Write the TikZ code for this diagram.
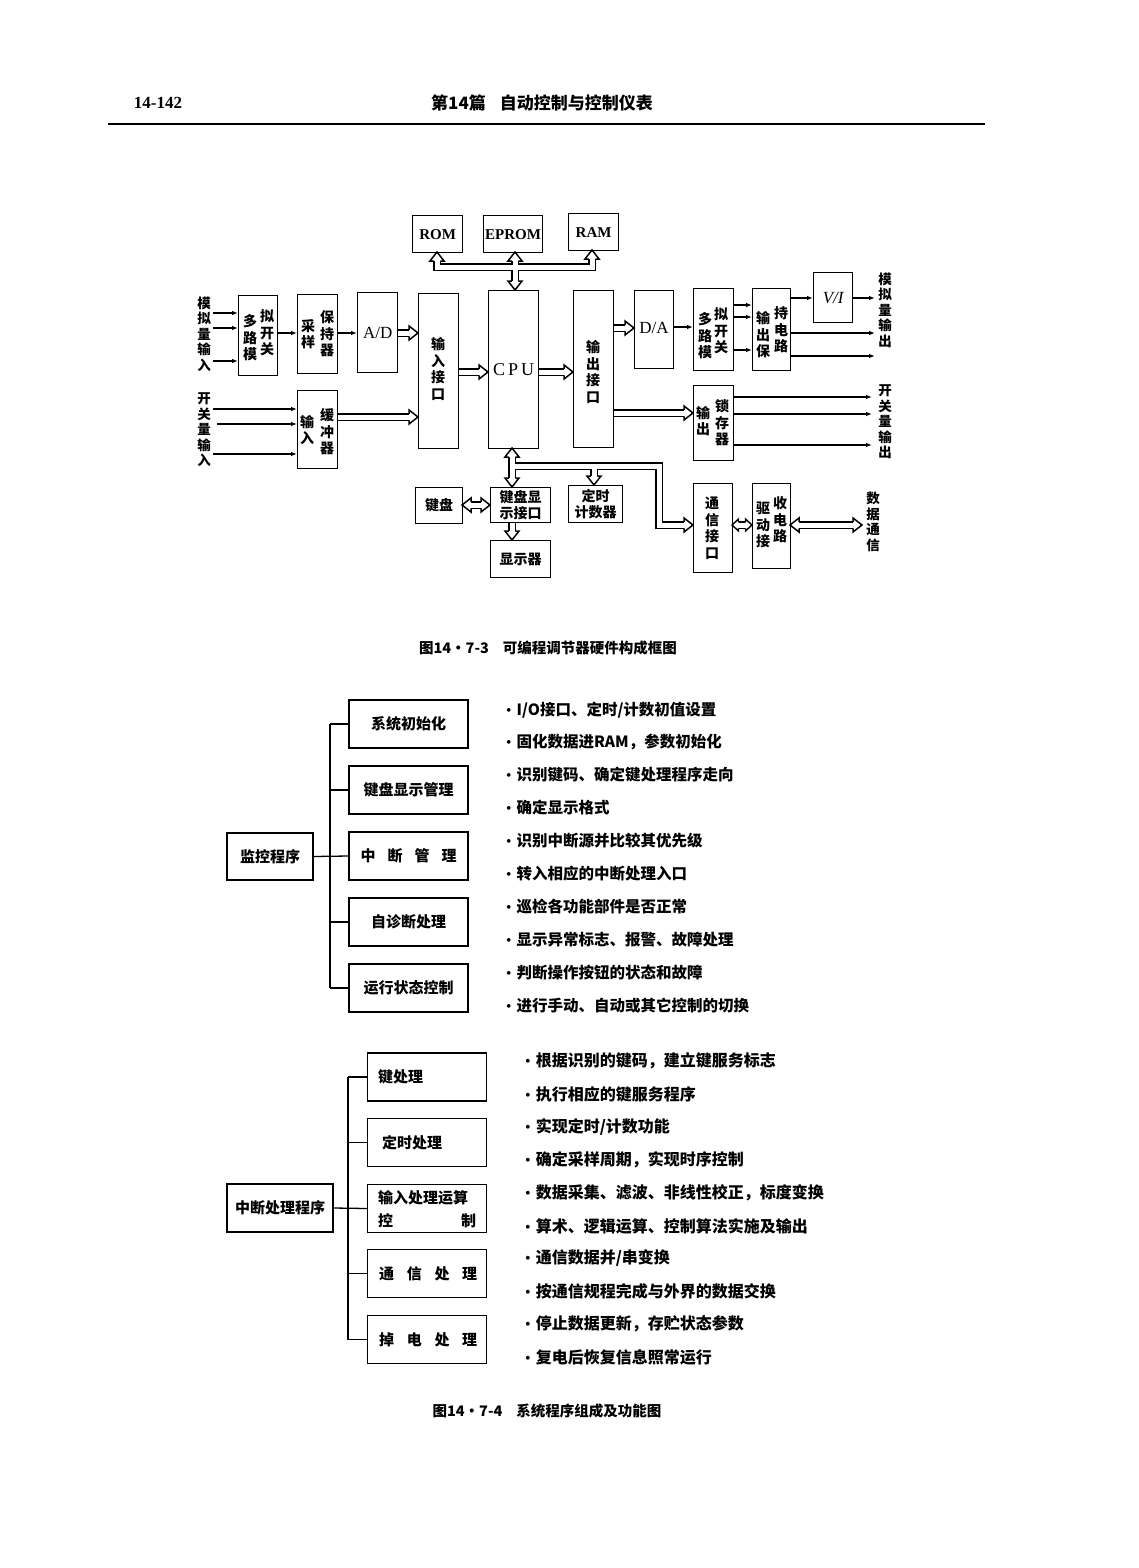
\documentclass[tikz,border=0pt]{standalone}
\usepackage{fontspec}
\setmainfont{Liberation Serif}
\newfontfamily\cjk{Noto Sans CJK SC}
\usetikzlibrary{arrows.meta}

\tikzset{
 box/.style={draw, line width=1.3pt, inner sep=0pt},
 lbl/.style={font=\cjk\bfseries\fontsize{14}{16.5}\selectfont, align=center, inner sep=0pt},
 side/.style={font=\cjk\bfseries\fontsize{13.5}{15.5}\selectfont, align=center, inner sep=0pt},
 lat/.style={font=\fontsize{16}{18}\selectfont, inner sep=0pt},
 mem/.style={font=\bfseries\fontsize{15}{18}\selectfont, inner sep=0pt},
 arr/.style={line width=1.1pt, -{Latex[length=6pt,width=4.5pt]}},
 tline/.style={line width=1.3pt},
 tbox/.style={draw, line width=1.3pt, minimum width=119pt, minimum height=48pt, inner sep=0pt, font=\cjk\bfseries\fontsize{15}{18}\selectfont},
 ttxt/.style={font=\cjk\bfseries\fontsize{15}{18}\selectfont, inner sep=0pt},
 bul/.style={font=\cjk\bfseries\fontsize{15.5}{18}\selectfont, anchor=west, inner sep=0pt},
 bulb/.style={font=\cjk\bfseries\fontsize{16}{18}\selectfont, anchor=west, inner sep=0pt},
 capt/.style={font=\cjk\bfseries\fontsize{14.5}{17}\selectfont, inner sep=0pt},
}

\newcommand\bx[5]{\node[box,anchor=north west,minimum width={(#4-#2)*1pt},minimum height={(#5-#3)*1pt}] (#1) at (#2,#3) {};}
\newcommand\bsO[1]{\draw[line width=8pt] #1;}
\newcommand\bsI[1]{\draw[white,line width=5pt] #1;}
\newcommand\hd[2]{%
 \fill[white,shift={(#1)},rotate=#2] (0.3,0)--(-9,7)--(-9,-7)--cycle;
 \draw[line width=1.5pt,line join=miter,shift={(#1)},rotate=#2] (-9,-3.25)--(-9,-7)--(0,0)--(-9,7)--(-9,3.25);}
\newcommand\hds[2]{%
 \fill[white,shift={(#1)},rotate=#2] (0.3,0)--(-6.5,6)--(-6.5,-6)--cycle;
 \draw[line width=1.4pt,line join=miter,shift={(#1)},rotate=#2] (-6.5,-3.25)--(-6.5,-6)--(0,0)--(-6.5,6)--(-6.5,3.25);}
\newcommand\bt{{\rmfamily\mdseries\textbullet}\hspace{5pt}}
\newcommand\allbus[1]{%
 #1{(437,261)--(437,267)--(592,267)--(592,259)}
 #1{(515,261)--(515,281)}
 #1{(397,333)--(409,333)}
 #1{(337,417)--(409,417)}
 #1{(458,372)--(479,372)}
 #1{(538,372)--(564,372)}
 #1{(613,328)--(625,328)}
 #1{(613,413)--(684,413)}
 #1{(512,457)--(512,478)}
 #1{(512,466)--(659,466)--(659,525)--(684,525)}
 #1{(594,466)--(594,476)}
 #1{(471,505)--(481,505)}
 #1{(512,522)--(512,531)}
 #1{(738,525)--(746,525)}
 #1{(799,525)--(853,525)}
}

\begin{document}
\begin{tikzpicture}[x=1pt,y=-1pt]
\fill[white] (0,0) rectangle (1138,1568);
\useasboundingbox (0,0) rectangle (1138,1568);

% header
\node[font=\bfseries\fontsize{17}{17}\selectfont, inner sep=0pt] (pg) at (158,103) {14-142};
\node[font=\cjk\bfseries\fontsize{17}{17}\selectfont, inner sep=0pt] (ht) at (542,103) {第14篇\hspace{14pt}自动控制与控制仪表};
\coordinate (r1) at (108,124);
\coordinate (r2) at (985,124);
\draw[line width=2.4pt] (r1) -- (r2);

% buses
\allbus\bsO
\allbus\bsI
\hd{437,252}{90}
\hd{515,252}{90}
\hd{592,250}{90}
\hd{515,290}{-90}
\hd{418,333}{0}
\hd{418,417}{0}
\hd{488,372}{0}
\hd{573,372}{0}
\hd{634,328}{0}
\hd{693,413}{0}
\hd{512,448}{90}
\hd{512,487}{-90}
\hd{594,485}{-90}
\hd{693,525}{0}
\hd{462,505}{180}
\hd{490,505}{0}
\hd{512,540}{-90}
\hds{732,525}{180}
\hds{752,525}{0}
\hd{790,525}{180}
\hd{862,525}{0}

% boxes
\bx{ROM}{412}{215}{462}{252}
\bx{EPROM}{483}{215}{542}{252}
\bx{RAM}{568}{213}{618}{250}
\bx{MXI}{238}{295}{277}{375}
\bx{SH}{297}{294}{337}{373}
\bx{AD}{357}{292}{397}{372}
\bx{INIF}{418}{293}{458}{448}
\bx{BUF}{297}{390}{337}{468}
\bx{CPU}{488}{290}{538}{448}
\bx{OUTIF}{573}{290}{613}{447}
\bx{DA}{634}{290}{673}{368}
\bx{MXO}{693}{288}{733}{370}
\bx{HOLD}{752}{288}{790}{370}
\bx{VI}{813}{272}{852}{322}
\bx{LATCH}{693}{385}{733}{460}
\bx{KB}{415}{487}{462}{523}
\bx{KDI}{490}{487}{550}{522}
\bx{DISP}{490}{540}{550}{577}
\bx{TIMER}{568}{485}{622}{522}
\bx{COMM}{693}{483}{732}{572}
\bx{DRV}{752}{483}{790}{568}

% thin arrows
\coordinate (ai1) at (213,313);
\coordinate (ai2) at (213,328);
\coordinate (ai3) at (213,361);
\draw[arr] (ai1) -- (ai1 -| MXI.west);
\draw[arr] (ai2) -- (ai2 -| MXI.west);
\draw[arr] (ai3) -- (ai3 -| MXI.west);
\draw[arr] (277,333) -- (297,333);
\draw[arr] (337,333) -- (357,333);
\coordinate (di1) at (213,409);
\coordinate (di2) at (217,424);
\coordinate (di3) at (213,454);
\draw[arr] (di1) -- (di1 -| BUF.west);
\draw[arr] (di2) -- (di2 -| BUF.west);
\draw[arr] (di3) -- (di3 -| BUF.west);
\draw[arr] (673,327) -- (693,327);
\draw[arr] (733,305) -- (752,305);
\draw[arr] (733,317) -- (752,317);
\draw[arr] (733,350) -- (752,350);
\draw[arr] (790,298) -- (813,298);
\coordinate (ao1) at (875,298);
\coordinate (ao2) at (875,333);
\coordinate (ao3) at (875,356);
\draw[arr] (VI.east |- ao1) -- (ao1);
\draw[arr] (HOLD.east |- ao2) -- (ao2);
\draw[arr] (HOLD.east |- ao3) -- (ao3);
\coordinate (do1) at (872,397);
\coordinate (do2) at (872,414);
\coordinate (do3) at (872,445);
\draw[arr] (LATCH.east |- do1) -- (do1);
\draw[arr] (LATCH.east |- do2) -- (do2);
\draw[arr] (LATCH.east |- do3) -- (do3);

% labels in boxes
\node[mem] (tROM) at (ROM) {ROM};
\node[mem] (tEPROM) at (EPROM) {EPROM};
\node[mem] (tRAM) at (RAM) {RAM};
\node[lbl] (tmx1a) at (250,338) {多\\路\\模};
\node[lbl] (tmx1b) at (267,333) {拟\\开\\关};
\node[lbl] (tsha) at (308,334) {采\\样};
\node[lbl] (tshb) at (327,334) {保\\持\\器};
\node[lat,font=\fontsize{17}{18}\selectfont] (tAD) at (AD) {A/D};
\node[lbl] (tin) at (438,369) {输\\入\\接\\口};
\node[lbl] (tbfa) at (307,430) {输\\入};
\node[lbl] (tbfb) at (327,432) {缓\\冲\\器};
\node[lat,font=\fontsize{18}{18}\selectfont] (tCPU) at (CPU) {C\,P\,U};
\node[lbl] (tout) at (593,372) {输\\出\\接\\口};
\node[lat,font=\fontsize{17}{18}\selectfont] (tDA) at (654,328) {D/A};
\node[lbl] (tmx2a) at (705,336) {多\\路\\模};
\node[lbl] (tmx2b) at (721,331) {拟\\开\\关};
\node[lbl] (thda) at (763,335) {输\\出\\保};
\node[lbl] (thdb) at (781,330) {持\\电\\路};
\node[lat,font=\itshape\fontsize{17}{18}\selectfont] (tVI) at (VI) {V/I};
\node[lbl] (tlta) at (703,421) {输\\出};
\node[lbl] (tltb) at (722,423) {锁\\存\\器};
\node[lbl] (tKB) at (KB) {键盘};
\node[lbl,font=\cjk\bfseries\fontsize{14}{15.5}\selectfont] (tKDI) at (KDI) {键盘显\\示接口};
\node[lbl] (tDISP) at (DISP) {显示器};
\node[lbl,font=\cjk\bfseries\fontsize{14}{15.5}\selectfont] (tTIM) at (TIMER) {定时\\计数器};
\node[lbl] (tCOMM) at (712,528) {通\\信\\接\\口};
\node[lbl] (tdra) at (763,525) {驱\\动\\接};
\node[lbl] (tdrb) at (780,520) {收\\电\\路};

% side labels
\node[side] (sai) at (204,334) {模\\拟\\量\\输\\入};
\node[side] (sdi) at (204,430) {开\\关\\量\\输\\入};
\node[side] (sao) at (885,310) {模\\拟\\量\\输\\出};
\node[side] (sdo) at (885,422) {开\\关\\量\\输\\出};
\node[side] (sdc) at (873,522) {数\\据\\通\\信};

\node[capt] (cap1) at (548,648) {图14·7-3\hspace{14pt}可编程调节器硬件构成框图};

% tree 1
\node[tbox] (m1) at (408.5,724) {系统初始化};
\node[tbox] (m2) at (408.5,790) {键盘显示管理};
\node[tbox] (m3) at (408.5,856) {\makebox[96pt]{中\hfill 断\hfill 管\hfill 理}};
\node[tbox] (m4) at (408.5,922) {自诊断处理};
\node[tbox] (m5) at (408.5,988) {运行状态控制};
\node[tbox, minimum width=86pt, minimum height=47pt] (jk) at (270,856.5) {监控程序};
\coordinate (sp1) at (330,0);
\draw[tline] (sp1 |- m1.west) -- (sp1 |- m5.west);
\draw[tline] (jk.east) -- (m3.west);
\draw[tline] (sp1 |- m1.west) -- (m1.west);
\draw[tline] (sp1 |- m2.west) -- (m2.west);
\draw[tline] (sp1 |- m4.west) -- (m4.west);
\draw[tline] (sp1 |- m5.west) -- (m5.west);

\node[bul] (b1) at (506,710) {\bt I/O接口、定时/计数初值设置};
\node[bul] (b2) at (506,742) {\bt 固化数据进RAM，参数初始化};
\node[bul] (b3) at (506,775) {\bt 识别键码、确定键处理程序走向};
\node[bul] (b4) at (506,808) {\bt 确定显示格式};
\node[bul] (b5) at (506,841) {\bt 识别中断源并比较其优先级};
\node[bul] (b6) at (506,874) {\bt 转入相应的中断处理入口};
\node[bul] (b7) at (506,907) {\bt 巡检各功能部件是否正常};
\node[bul] (b8) at (506,940) {\bt 显示异常标志、报警、故障处理};
\node[bul] (b9) at (506,973) {\bt 判断操作按钮的状态和故障};
\node[bul] (b10) at (506,1006) {\bt 进行手动、自动或其它控制的切换};

% tree 2
\node[tbox] (n1) at (427,1077) {};
\node[tbox] (n2) at (427,1142.5) {};
\node[tbox] (n3) at (427,1208.5) {};
\node[tbox] (n4) at (427,1273.5) {};
\node[tbox] (n5) at (427,1339.5) {};
\node[ttxt, anchor=west] (tn1) at (378,1077) {键处理};
\node[ttxt, anchor=west] (tn2) at (382,1142.5) {定时处理};
\node[ttxt, anchor=west] (tn3a) at (378,1198) {输入处理运算};
\node[ttxt, anchor=west] (tn3b) at (378,1221) {\makebox[98pt]{控\hfill 制}};
\node[ttxt, anchor=west] (tn4) at (379,1273.5) {\makebox[98pt]{通\hfill 信\hfill 处\hfill 理}};
\node[ttxt, anchor=west] (tn5) at (379,1339.5) {\makebox[98pt]{掉\hfill 电\hfill 处\hfill 理}};
\node[tbox, minimum width=106pt, minimum height=48pt] (zd) at (280,1208) {中断处理程序};
\coordinate (sp2) at (348,0);
\draw[tline] (sp2 |- n1.west) -- (sp2 |- n5.west);
\draw[tline] (zd.east) -- (n3.west);
\draw[tline] (sp2 |- n1.west) -- (n1.west);
\draw[tline] (sp2 |- n2.west) -- (n2.west);
\draw[tline] (sp2 |- n4.west) -- (n4.west);
\draw[tline] (sp2 |- n5.west) -- (n5.west);

\node[bulb] (c1) at (525,1061) {\bt 根据识别的键码，建立键服务标志};
\node[bulb] (c2) at (525,1094) {\bt 执行相应的键服务程序};
\node[bulb] (c3) at (525,1127) {\bt 实现定时/计数功能};
\node[bulb] (c4) at (525,1160) {\bt 确定采样周期，实现时序控制};
\node[bulb] (c5) at (525,1193) {\bt 数据采集、滤波、非线性校正，标度变换};
\node[bulb] (c6) at (525,1226) {\bt 算术、逻辑运算、控制算法实施及输出};
\node[bulb] (c7) at (525,1258) {\bt 通信数据并/串变换};
\node[bulb] (c8) at (525,1291) {\bt 按通信规程完成与外界的数据交换};
\node[bulb] (c9) at (525,1324) {\bt 停止数据更新，存贮状态参数};
\node[bulb] (c10) at (525,1357) {\bt 复电后恢复信息照常运行};

\node[capt] (cap2) at (547,1411) {图14·7-4\hspace{14pt}系统程序组成及功能图};
\end{tikzpicture}
\end{document}
